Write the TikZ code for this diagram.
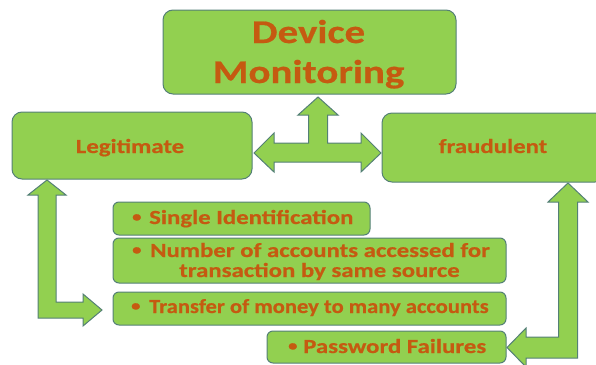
\documentclass[tikz,border=0pt]{standalone}
\usepackage{fontspec}
\setmainfont{Carlito}[FakeStretch=1.24, BoldFeatures={FakeBold=0.6}]
\definecolor{boxg}{RGB}{146,208,80}
\definecolor{edgec}{RGB}{84,128,118}
\definecolor{orangec}{RGB}{197,90,17}
\newcommand{\smbul}{\raisebox{0.12em}{\scalebox{0.75}{\textbullet}}}
\begin{document}
\begin{tikzpicture}[x=1pt,y=-1pt,
  box/.style={draw=edgec, line width=1pt, fill=boxg, rounded corners=10pt, inner sep=0pt},
  sbox/.style={box, rounded corners=6pt},
  bigtxt/.style={text=orangec, inner sep=0pt, font=\bfseries\fontsize{33}{40}\selectfont},
  midtxt/.style={text=orangec, inner sep=0pt, font=\bfseries\fontsize{20}{24}\selectfont},
  btxt/.style={text=orangec, inner sep=0pt, font=\bfseries\fontsize{20}{24}\selectfont, anchor=base west},
  blk/.style={draw=edgec, line width=1pt, fill=boxg, line join=miter}]
\useasboundingbox (0,0) rectangle (596,364);
% boxes
\node[box, minimum width=293pt, minimum height=84pt] (dm) at (309.5,52) {};
\node[bigtxt, anchor=base] (dm1) at (308.5,43) {Device};
\node[bigtxt, anchor=base] (dm2) at (308.5,83) {Monitoring};
\node[box, minimum width=240pt, minimum height=67pt] (leg) at (132,145.5) {};
\node[midtxt, anchor=base] (legt) at (130,153) {Legitimate};
\node[box, minimum width=223pt, minimum height=69pt] (fra) at (493.5,147.5) {};
\node[midtxt, anchor=base] (frat) at (493,153) {fraudulent};
\node[sbox, minimum width=257pt, minimum height=33pt] (s1) at (241.5,218.5) {};
\node[sbox, minimum width=393pt, minimum height=45pt] (s2) at (309.5,260.5) {};
\node[sbox, minimum width=393pt, minimum height=33pt] (s3) at (309.5,308.5) {};
\node[sbox, minimum width=239pt, minimum height=32pt] (s4) at (386.5,347) {};
\node[btxt] (s1t) at (132,224) {\makebox[17pt][l]{\smbul}Single Identification};
\node[btxt] (s2a) at (132,257) {\makebox[18pt][l]{\smbul}Number of accounts accessed for};
\node[btxt] (s2b) at (179,277) {transaction by same source};
\node[btxt] (s3t) at (131,313) {\makebox[18pt][l]{\smbul}\scalebox{0.91}[1]{Transfer of money to many accounts}};
\node[btxt] (s4t) at (288,353) {\makebox[15pt][l]{\smbul}Password Failures};
% T block arrow
\draw[blk] (318,97) -- (338,115) -- (327.5,115) -- (327.5,143) -- (361,143) -- (361,133)
  -- (381,153) -- (361,172) -- (361,162) -- (274,162) -- (274,172) -- (254,153)
  -- (274,133) -- (274,143) -- (308.5,143) -- (308.5,115) -- (298,115) -- cycle;
% left L arrow
\draw[blk] (47,180) -- (66,195) -- (56,195) -- (56,302) -- (83,302) -- (83,294)
  -- (102,310) -- (83,326) -- (83,318) -- (38,318) -- (38,195) -- (28,195) -- cycle;
% right L arrow
\draw[blk] (568,183) -- (588,202) -- (577.5,202) -- (577.5,358) -- (526,358) -- (526,367)
  -- (507,347.5) -- (526,328) -- (526,337) -- (558.5,337) -- (558.5,202) -- (548,202) -- cycle;
\end{tikzpicture}
\end{document}
